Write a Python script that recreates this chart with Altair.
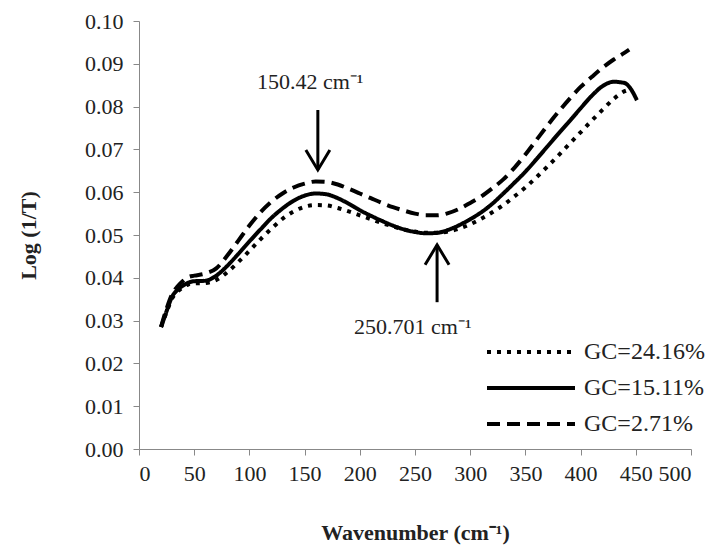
import altair as alt
import pandas as pd

# ---- data ----
x_base = [20, 25, 30, 35, 40, 45, 50, 60, 70, 80, 90, 100, 110, 120, 130, 140, 150, 160,
          170, 180, 190, 200, 210, 220, 230, 240, 250, 260, 270, 280, 290, 300, 310, 320,
          330, 340, 350, 360, 370, 380, 390, 400, 410, 420, 430, 440]

x_gc_24_16 = x_base + [446]
y_gc_24_16 = [0.0285, 0.0320, 0.0352, 0.0368, 0.0378, 0.0385, 0.0387, 0.0388, 0.0395, 0.0413,
              0.0437, 0.0463, 0.0490, 0.0515, 0.0538, 0.0555, 0.0566, 0.0570, 0.0569, 0.0563,
              0.0555, 0.0546, 0.0537, 0.0528, 0.0520, 0.0513, 0.0508, 0.0505, 0.0505, 0.0508,
              0.0515, 0.0525, 0.0538, 0.0553, 0.0570, 0.0590, 0.0611, 0.0635, 0.0660, 0.0686,
              0.0713, 0.0740, 0.0767, 0.0793, 0.0818, 0.0836, 0.0840]

x_gc_15_11 = x_base + [445, 451]
y_gc_15_11 = [0.0285, 0.0322, 0.0356, 0.0372, 0.0382, 0.0389, 0.0392, 0.0393, 0.0405, 0.0428,
              0.0456, 0.0485, 0.0513, 0.0540, 0.0562, 0.0580, 0.0592, 0.0597, 0.0595, 0.0586,
              0.0573, 0.0558, 0.0545, 0.0533, 0.0522, 0.0513, 0.0507, 0.0504, 0.0505, 0.0512,
              0.0523, 0.0537, 0.0553, 0.0573, 0.0597, 0.0622, 0.0648, 0.0677, 0.0707, 0.0737,
              0.0766, 0.0796, 0.0825, 0.0848, 0.0858, 0.0855, 0.0843, 0.0815]

x_gc_2_71 = x_base + [444]
y_gc_2_71 = [0.0285, 0.0328, 0.0362, 0.0380, 0.0393, 0.0402, 0.0405, 0.0410, 0.0422, 0.0452,
             0.0487, 0.0522, 0.0553, 0.0578, 0.0597, 0.0611, 0.0620, 0.0625, 0.0624, 0.0618,
             0.0608, 0.0597, 0.0586, 0.0575, 0.0565, 0.0557, 0.0550, 0.0546, 0.0546, 0.0551,
             0.0561, 0.0575, 0.0590, 0.0609, 0.0630, 0.0657, 0.0688, 0.0722, 0.0756, 0.0788,
             0.0818, 0.0846, 0.0869, 0.0891, 0.0910, 0.0926, 0.0933]

series_names = ["GC=24.16%", "GC=15.11%", "GC=2.71%"]

x_ticks = [0, 50, 100, 150, 200, 250, 300, 350, 400, 450, 500]
y_ticks = [0.00, 0.01, 0.02, 0.03, 0.04, 0.05, 0.06, 0.07, 0.08, 0.09, 0.10]

# annotations: label text position and arrow (x, tail, tip)
ann_text = ["150.42 cm\u207b\u00b9", "250.701 cm\u207b\u00b9"]
ann_text_x = [155, 248]
ann_text_y = [0.0857, 0.0285]
arrow_x = [162, 270]
arrow_tail = [0.0792, 0.0343]
arrow_tip = [0.0652, 0.0477]

# ---- build tables ----
rows = []
for name, xs, ys in [(series_names[0], x_gc_24_16, y_gc_24_16),
                     (series_names[1], x_gc_15_11, y_gc_15_11),
                     (series_names[2], x_gc_2_71, y_gc_2_71)]:
    for xv, yv in zip(xs, ys):
        rows.append({"series": name, "wavenumber": xv, "value": yv})
df = pd.DataFrame(rows)

ann = pd.DataFrame({"label": ann_text, "x": ann_text_x, "y": ann_text_y})
arrows = pd.DataFrame({"x": arrow_x, "tail": arrow_tail, "tip": arrow_tip})

FONT = "Liberation Serif"
TXT = "#222222"
FS = 22

xscale = alt.Scale(domain=[0, 500], nice=False)
yscale = alt.Scale(domain=[0, 0.10], nice=False)

lines = alt.Chart(df).mark_line(
    color="black", strokeWidth=4, strokeCap="butt", interpolate="monotone"
).encode(
    x=alt.X("wavenumber:Q", scale=xscale,
            axis=alt.Axis(values=x_ticks, title="Wavenumber (cm\u207b\u00b9)", format="d")),
    y=alt.Y("value:Q", scale=yscale,
            axis=alt.Axis(values=y_ticks, title="Log (1/T)", format=".2f")),
    strokeDash=alt.StrokeDash(
        "series:N",
        scale=alt.Scale(domain=series_names, range=[[4, 6], [1, 0], [13, 7]]),
        legend=alt.Legend(
            title=None, orient="none", legendX=346, legendY=319,
            symbolType="stroke", symbolSize=7744, symbolStrokeWidth=4,
            symbolStrokeColor="black", labelFont=FONT, labelFontSize=24,
            labelColor=TXT, labelOffset=7, rowPadding=12, clipHeight=24
        ),
    ),
    detail="series:N",
)

shafts = alt.Chart(arrows).mark_rule(color="black", strokeWidth=3).encode(
    x="x:Q", y="tail:Q", y2="tip:Q"
)

head_down = alt.Chart(arrows.iloc[[0]]).mark_point(
    shape="M-0.6,-1L0,0L0.6,-1", filled=False, color="black", strokeWidth=3,
    size=1600, opacity=1
).encode(x="x:Q", y="tip:Q")

head_up = alt.Chart(arrows.iloc[[1]]).mark_point(
    shape="M-0.6,1L0,0L0.6,1", filled=False, color="black", strokeWidth=3,
    size=1600, opacity=1
).encode(x="x:Q", y="tip:Q")

labels = alt.Chart(ann).mark_text(
    font=FONT, fontSize=FS, color=TXT, align="center", baseline="middle"
).encode(x="x:Q", y="y:Q", text="label:N")

chart = alt.layer(lines, shafts, head_down, head_up, labels).properties(
    width=552, height=428,
    autosize=alt.AutoSizeParams(type="none"),
    padding={"left": 139, "top": 21, "right": 28, "bottom": 104},
).configure_view(stroke=None).configure_axis(
    grid=False, domainColor="#888888", tickColor="#888888", tickSize=6,
    labelFont=FONT, labelFontSize=FS, labelColor=TXT,
    titleFont=FONT, titleFontSize=FS, titleFontWeight="bold", titleColor=TXT,
).configure_axisY(labelPadding=10, titlePadding=44).configure_axisX(
    labelPadding=8, titlePadding=38
)

chart.save("out.html", embed_options={"renderer": "svg", "actions": False})
